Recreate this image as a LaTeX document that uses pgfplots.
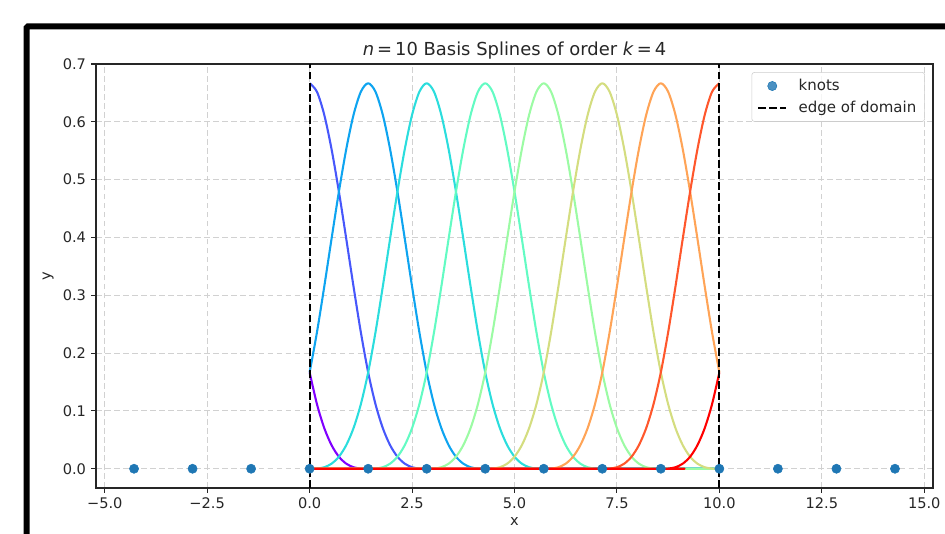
\documentclass[border=0pt]{standalone}
\usepackage{fontspec}
\setmainfont{DejaVu Sans}
\usepackage{pgfplots}
\pgfplotsset{compat=1.18}
\definecolor{c0}{rgb}{0.5,0,1}
\definecolor{c1}{rgb}{0.278,0.342,0.985}
\definecolor{c2}{rgb}{0.056,0.643,0.940}
\definecolor{c3}{rgb}{0.167,0.866,0.866}
\definecolor{c4}{rgb}{0.389,0.985,0.766}
\definecolor{c5}{rgb}{0.611,0.985,0.643}
\definecolor{c6}{rgb}{0.833,0.866,0.5}
\definecolor{c7}{rgb}{1,0.643,0.342}
\definecolor{c8}{rgb}{1,0.342,0.174}
\definecolor{c9}{rgb}{1,0,0}
\definecolor{knotblue}{HTML}{1F77B4}
\definecolor{txt}{gray}{0.15}
\pgfplotsset{
  dotlegend/.style={legend image code/.code={\draw[##1] plot coordinates {(10pt,0pt)}; \path[draw=none, fill=none] (0pt,0pt) -- (27pt,0pt);}},
  linelegend/.style={legend image code/.code={\draw[##1] (0pt,0pt) -- (20pt,0pt); \path[draw=none, fill=none] (0pt,0pt) -- (27pt,0pt);}},
}
\begin{document}
\begin{tikzpicture}
\useasboundingbox (0,0) rectangle (680.4pt,383.76pt);
\draw[line width=4.3pt, rounded corners=1pt] (19.2pt,-30pt) -- (19.2pt,364.8pt) -- (720pt,364.8pt);
\begin{axis}[
  at={(69.12pt,32.4pt)}, anchor=south west,
  scale only axis, width=602.64pt, height=305.28pt,
  xmin=-5.214, xmax=15.214, ymin=-0.0333, ymax=0.7,
  xtick={-5,-2.5,0,2.5,5,7.5,10,12.5,15},
  xticklabels={−5.0,−2.5,0.0,2.5,5.0,7.5,10.0,12.5,15.0},
  ytick={0,0.1,0.2,0.3,0.4,0.5,0.6,0.7},
  yticklabels={0.0,0.1,0.2,0.3,0.4,0.5,0.6,0.7},
  tick pos=left, tick align=outside, major tick length=3.5pt,
  every tick/.style={txt, line width=0.8pt},
  axis line style={txt, line width=0.8pt},
  ticklabel style={font=\fontsize{10.5}{12}\selectfont, text=txt},
  xticklabel style={anchor=north, inner sep=0pt, yshift=-3.5pt},
  yticklabel style={anchor=east, inner sep=0pt, xshift=-3.5pt},
  grid=major,
  major grid style={black!18, line width=0.8pt, dash pattern=on 4pt off 2.5pt},
  title={\textit{n}\,=\,10 Basis Splines of order \textit{k}\,=\,4},
  title style={font=\fontsize{12.9}{14}\selectfont, text=txt, anchor=base},
  xlabel={x}, ylabel={y},
  xlabel style={at={(axis description cs:0.5,-0.0795)}, anchor=center, font=\fontsize{10.5}{12}\selectfont, text=txt},
  ylabel style={at={(axis description cs:-0.0573,0.5)}, anchor=center, font=\fontsize{10.5}{12}\selectfont, text=txt},
  legend cell align=left,
  legend style={at={(1,1)}, anchor=north east, xshift=-5.8pt, yshift=-5.8pt,
    draw=black!20, fill=white, fill opacity=0.8, text opacity=1, rounded corners=2pt,
    font=\fontsize{10.8}{12}\selectfont, text=txt, inner xsep=4pt, inner ysep=3pt, row sep=2pt},
  every axis plot/.append style={line join=round},
]
% knots
\addplot[only marks, mark=*, mark size=3.3pt, color=knotblue, mark options={draw=knotblue, fill=knotblue}, dotlegend]
  coordinates {(-4.2857,0)(-2.8571,0)(-1.4286,0)(0,0)(1.4286,0)(2.8571,0)(4.2857,0)(5.7143,0)(7.1429,0)(8.5714,0)(10,0)(11.4286,0)(12.8571,0)(14.2857,0)};
\addlegendentry{knots}
% basis splines
\addplot[c0, line width=1.5pt, smooth, forget plot] coordinates {(0,0.1667)(0.1786,0.1117)(0.3571,0.0703)(0.5357,0.0407)(0.7143,0.0208)(0.8929,0.0088)(1.0714,0.0026)(1.25,0.0003)(1.4286,0)(10,0)};
\addplot[c1, line width=1.5pt, smooth, forget plot] coordinates {(0,0.6667)(0.1786,0.6520)(0.3571,0.6120)(0.5357,0.5524)(0.7143,0.4792)(0.8929,0.3981)(1.0714,0.3151)(1.25,0.2360)(1.4286,0.1667)(1.6071,0.1117)(1.7857,0.0703)(1.9643,0.0407)(2.1429,0.0208)(2.3214,0.0088)(2.5,0.0026)(2.6786,0.0003)(2.8571,0)(10,0)};
\addplot[c2, line width=1.5pt, smooth, forget plot] coordinates {(0,0.1667)(0.1786,0.2360)(0.3571,0.3151)(0.5357,0.3981)(0.7143,0.4792)(0.8929,0.5524)(1.0714,0.6120)(1.25,0.6520)(1.4286,0.6667)(1.6071,0.6520)(1.7857,0.6120)(1.9643,0.5524)(2.1429,0.4792)(2.3214,0.3981)(2.5,0.3151)(2.6786,0.2360)(2.8571,0.1667)(3.0357,0.1117)(3.2143,0.0703)(3.3929,0.0407)(3.5714,0.0208)(3.75,0.0088)(3.9286,0.0026)(4.1071,0.0003)(4.2857,0)(10,0)};
\addplot[c3, line width=1.5pt, smooth, forget plot] coordinates {(0,0)(0.1786,0.0003)(0.3571,0.0026)(0.5357,0.0088)(0.7143,0.0208)(0.8929,0.0407)(1.0714,0.0703)(1.25,0.1117)(1.4286,0.1667)(1.6071,0.2360)(1.7857,0.3151)(1.9643,0.3981)(2.1429,0.4792)(2.3214,0.5524)(2.5,0.6120)(2.6786,0.6520)(2.8571,0.6667)(3.0357,0.6520)(3.2143,0.6120)(3.3929,0.5524)(3.5714,0.4792)(3.75,0.3981)(3.9286,0.3151)(4.1071,0.2360)(4.2857,0.1667)(4.4643,0.1117)(4.6429,0.0703)(4.8214,0.0407)(5,0.0208)(5.1786,0.0088)(5.3571,0.0026)(5.5357,0.0003)(5.7143,0)(10,0)};
\addplot[c4, line width=1.5pt, smooth, forget plot] coordinates {(0,0)(1.4286,0)(1.6071,0.0003)(1.7857,0.0026)(1.9643,0.0088)(2.1429,0.0208)(2.3214,0.0407)(2.5,0.0703)(2.6786,0.1117)(2.8571,0.1667)(3.0357,0.2360)(3.2143,0.3151)(3.3929,0.3981)(3.5714,0.4792)(3.75,0.5524)(3.9286,0.6120)(4.1071,0.6520)(4.2857,0.6667)(4.4643,0.6520)(4.6429,0.6120)(4.8214,0.5524)(5,0.4792)(5.1786,0.3981)(5.3571,0.3151)(5.5357,0.2360)(5.7143,0.1667)(5.8929,0.1117)(6.0714,0.0703)(6.25,0.0407)(6.4286,0.0208)(6.6071,0.0088)(6.7857,0.0026)(6.9643,0.0003)(7.1429,0)(10,0)};
\addplot[c5, line width=1.5pt, smooth, forget plot] coordinates {(0,0)(2.8571,0)(3.0357,0.0003)(3.2143,0.0026)(3.3929,0.0088)(3.5714,0.0208)(3.75,0.0407)(3.9286,0.0703)(4.1071,0.1117)(4.2857,0.1667)(4.4643,0.2360)(4.6429,0.3151)(4.8214,0.3981)(5,0.4792)(5.1786,0.5524)(5.3571,0.6120)(5.5357,0.6520)(5.7143,0.6667)(5.8929,0.6520)(6.0714,0.6120)(6.25,0.5524)(6.4286,0.4792)(6.6071,0.3981)(6.7857,0.3151)(6.9643,0.2360)(7.1429,0.1667)(7.3214,0.1117)(7.5,0.0703)(7.6786,0.0407)(7.8571,0.0208)(8.0357,0.0088)(8.2143,0.0026)(8.3929,0.0003)(8.5714,0)(10,0)};
\addplot[c6, line width=1.5pt, smooth, forget plot] coordinates {(0,0)(4.2857,0)(4.4643,0.0003)(4.6429,0.0026)(4.8214,0.0088)(5,0.0208)(5.1786,0.0407)(5.3571,0.0703)(5.5357,0.1117)(5.7143,0.1667)(5.8929,0.2360)(6.0714,0.3151)(6.25,0.3981)(6.4286,0.4792)(6.6071,0.5524)(6.7857,0.6120)(6.9643,0.6520)(7.1429,0.6667)(7.3214,0.6520)(7.5,0.6120)(7.6786,0.5524)(7.8571,0.4792)(8.0357,0.3981)(8.2143,0.3151)(8.3929,0.2360)(8.5714,0.1667)(8.75,0.1117)(8.9286,0.0703)(9.1071,0.0407)(9.2857,0.0208)(9.4643,0.0088)(9.6429,0.0026)(9.8214,0.0003)(10,0)};
\addplot[c7, line width=1.5pt, smooth, forget plot] coordinates {(0,0)(5.7143,0)(5.8929,0.0003)(6.0714,0.0026)(6.25,0.0088)(6.4286,0.0208)(6.6071,0.0407)(6.7857,0.0703)(6.9643,0.1117)(7.1429,0.1667)(7.3214,0.2360)(7.5,0.3151)(7.6786,0.3981)(7.8571,0.4792)(8.0357,0.5524)(8.2143,0.6120)(8.3929,0.6520)(8.5714,0.6667)(8.75,0.6520)(8.9286,0.6120)(9.1071,0.5524)(9.2857,0.4792)(9.4643,0.3981)(9.6429,0.3151)(9.8214,0.2360)(10,0.1667)};
\addplot[c8, line width=1.5pt, smooth, forget plot] coordinates {(0,0)(7.1429,0)(7.3214,0.0003)(7.5,0.0026)(7.6786,0.0088)(7.8571,0.0208)(8.0357,0.0407)(8.2143,0.0703)(8.3929,0.1117)(8.5714,0.1667)(8.75,0.2360)(8.9286,0.3151)(9.1071,0.3981)(9.2857,0.4792)(9.4643,0.5524)(9.6429,0.6120)(9.8214,0.6520)(10,0.6667)};
\addplot[c9, line width=1.5pt, smooth, forget plot] coordinates {(0,0)(8.5714,0)(8.75,0.0003)(8.9286,0.0026)(9.1071,0.0088)(9.2857,0.0208)(9.4643,0.0407)(9.6429,0.0703)(9.8214,0.1117)(10,0.1667)};
% edges of domain
\addplot[black, line width=1.5pt, dash pattern=on 5.55pt off 2.4pt, linelegend]
  coordinates {(0,-0.0333)(0,0.7)};
\addlegendentry{edge of domain}
\addplot[black, line width=1.5pt, dash pattern=on 5.55pt off 2.4pt, forget plot]
  coordinates {(10,-0.0333)(10,0.7)};
\end{axis}
\end{tikzpicture}
\end{document}
